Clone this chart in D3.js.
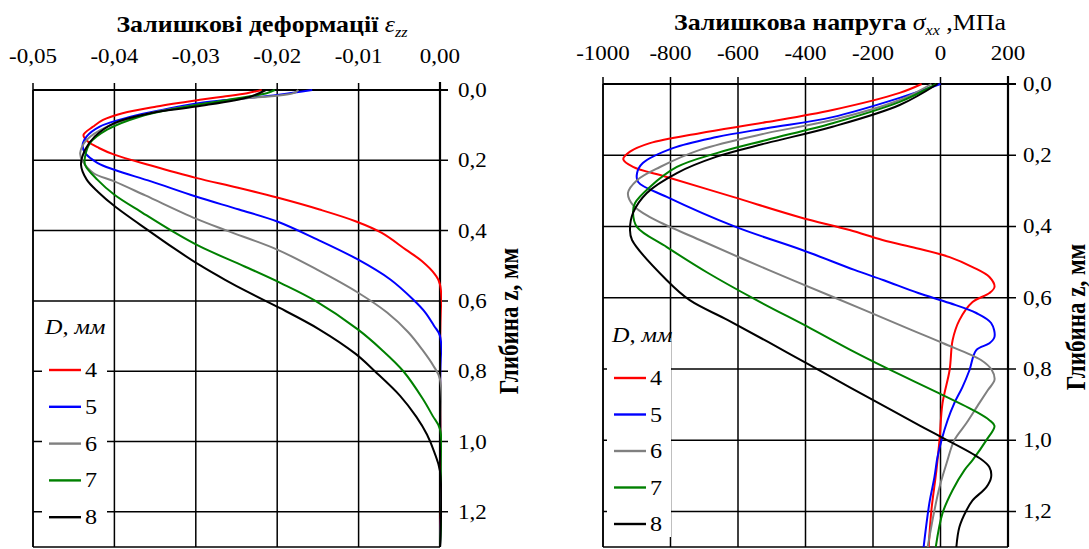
<!DOCTYPE html>
<html>
<head>
<meta charset="utf-8">
<script src="https://cdn.jsdelivr.net/npm/d3@7"></script>
<style>
    html, body { margin: 0; padding: 0; background: #fff; }
    svg { display: block; font-family: "Liberation Serif", "Times New Roman", serif; }
</style>
</head>
<body>
<svg id="chart" width="1089" height="549"></svg>
<script>
// depth ticks, shared by both panels
const depthTicks = [0, 0.2, 0.4, 0.6, 0.8, 1.0, 1.2];
const strainTicks = [-0.05, -0.04, -0.03, -0.02, -0.01, 0];
const stressTicks = [-1000, -800, -600, -400, -200, 0, 200];

const diameters = [4, 5, 6, 7, 8];
const seriesColors = ['#ff0000', '#0000ff', '#808080', '#008000', '#000000'];

// residual strain eps_zz, rows are [depth z mm, value]
const strainD4 = [[0, -0.0219], [0.009, -0.0237], [0.019, -0.0267], [0.028, -0.0295], [0.047, -0.0348], [0.066, -0.039], [0.085, -0.0414], [0.104, -0.0426], [0.128, -0.0438], [0.146, -0.0433], [0.165, -0.0419], [0.184, -0.040], [0.215, -0.0355], [0.25, -0.030], [0.278, -0.0248], [0.306, -0.020], [0.34, -0.0148], [0.374, -0.0103], [0.406, -0.0072], [0.454, -0.0042], [0.487, -0.0022], [0.525, -0.0006], [0.553, 0], [1.3, 0]];
const strainD5 = [[0, -0.0157], [0.014, -0.020], [0.037, -0.0295], [0.056, -0.034], [0.076, -0.038], [0.104, -0.0418], [0.132, -0.0434], [0.156, -0.0439], [0.179, -0.0436], [0.207, -0.0421], [0.227, -0.040], [0.26, -0.0355], [0.303, -0.030], [0.34, -0.0247], [0.374, -0.020], [0.425, -0.0151], [0.482, -0.0101], [0.539, -0.0061], [0.596, -0.0033], [0.633, -0.0018], [0.672, -0.0007], [0.70, 0], [1.3, 0]];
const strainD6 = [[0, -0.0174], [0.009, -0.018], [0.028, -0.0254], [0.066, -0.0356], [0.104, -0.0409], [0.142, -0.0434], [0.179, -0.0442], [0.203, -0.0439], [0.236, -0.0426], [0.26, -0.040], [0.3, -0.0362], [0.366, -0.030], [0.4, -0.0262], [0.454, -0.020], [0.511, -0.0151], [0.576, -0.0101], [0.633, -0.0065], [0.689, -0.0039], [0.738, -0.0022], [0.785, -0.0008], [0.823, 0], [1.3, 0]];
const strainD7 = [[0, -0.0203], [0.009, -0.0213], [0.047, -0.0311], [0.076, -0.0369], [0.113, -0.0409], [0.151, -0.043], [0.189, -0.0436], [0.213, -0.0436], [0.255, -0.0421], [0.298, -0.040], [0.35, -0.0365], [0.4, -0.033], [0.445, -0.0295], [0.502, -0.024], [0.55, -0.0195], [0.6, -0.0153], [0.681, -0.0101], [0.738, -0.0072], [0.80, -0.0045], [0.879, -0.0021], [0.927, -0.0009], [0.965, 0], [1.3, 0]];
const strainD8 = [[0, -0.0214], [0.019, -0.0233], [0.047, -0.030], [0.066, -0.0356], [0.094, -0.040], [0.132, -0.0424], [0.17, -0.0436], [0.213, -0.0441], [0.255, -0.0434], [0.29, -0.042], [0.33, -0.040], [0.4, -0.0358], [0.45, -0.0327], [0.497, -0.0296], [0.54, -0.0264], [0.576, -0.0235], [0.62, -0.0197], [0.68, -0.0149], [0.75, -0.0104], [0.80, -0.0080], [0.87, -0.0049], [0.93, -0.0029], [0.98, -0.0016], [1.03, -0.0007], [1.084, 0], [1.3, 0]];

// residual stress sigma_xx, MPa, rows are [depth z mm, value]
const stressD4 = [[0, -56], [0.025, -121], [0.073, -320], [0.107, -515], [0.138, -713], [0.166, -861], [0.19, -920], [0.211, -940], [0.233, -911], [0.261, -811], [0.317, -615], [0.374, -417], [0.41, -269], [0.438, -172], [0.461, -71], [0.486, 27], [0.514, 95], [0.542, 145], [0.57, 160], [0.587, 145], [0.612, 95], [0.663, 56], [0.719, 36], [0.803, 27], [0.896, 6], [1.0, -3], [1.084, -12], [1.197, -27], [1.3, -35]];
const stressD5 = [[0, 0], [0.039, -121], [0.093, -320], [0.124, -515], [0.149, -663], [0.18, -793], [0.222, -882], [0.25, -899], [0.275, -896], [0.317, -811], [0.402, -605], [0.466, -410], [0.522, -255], [0.551, -168], [0.587, -66], [0.615, 27], [0.643, 106], [0.671, 150], [0.71, 160], [0.728, 145], [0.747, 106], [0.803, 86], [0.851, 65], [0.896, 41], [0.944, 21], [1.0, 3], [1.048, -9], [1.104, -18], [1.177, -33], [1.3, -50]];
const stressD6 = [[0, -27], [0.045, -121], [0.101, -320], [0.138, -515], [0.185, -713], [0.233, -831], [0.27, -899], [0.306, -926], [0.34, -911], [0.374, -861], [0.438, -713], [0.522, -510], [0.598, -318], [0.691, -85], [0.728, 8], [0.775, 120], [0.803, 152], [0.831, 160], [0.86, 140], [0.896, 115], [0.952, 77], [1.0, 41], [1.065, 18], [1.132, -3], [1.197, -18], [1.3, -38]];
const stressD7 = [[0, -12], [0.05, -121], [0.11, -320], [0.157, -515], [0.194, -663], [0.233, -781], [0.289, -861], [0.334, -905], [0.362, -911], [0.402, -899], [0.458, -811], [0.53, -690], [0.607, -545], [0.686, -385], [0.75, -260], [0.80, -155], [0.868, -5], [0.92, 105], [0.944, 145], [0.96, 160], [1.0, 136], [1.056, 95], [1.084, 71], [1.14, 36], [1.205, 6], [1.3, -14]];
const stressD8 = [[0, -9], [0.059, -121], [0.12, -320], [0.166, -515], [0.204, -663], [0.25, -781], [0.306, -870], [0.362, -911], [0.41, -920], [0.438, -914], [0.551, -811], [0.607, -743], [0.663, -630], [0.756, -450], [0.851, -270], [0.916, -145], [0.96, -60], [0.99, 0], [1.05, 115], [1.076, 145], [1.104, 150], [1.132, 136], [1.169, 95], [1.197, 77], [1.244, 56], [1.3, 47]];

const strainSeries = [strainD4, strainD5, strainD6, strainD7, strainD8];
const stressSeries = [stressD4, stressD5, stressD6, stressD7, stressD8];

const svg = d3.select('#chart');
const STRETCH = 1.15;

function comma(value, digits) {
    return value.toFixed(digits).replace('.', ',');
}

function placeText(sel, x, y, rotate) {
    return sel.attr('transform', rotate
        ? `translate(${x},${y}) rotate(-90) scale(1,${STRETCH})`
        : `translate(${x},${y}) scale(${STRETCH},1)`);
}

function drawPanel(cfg) {
    const x = d3.scaleLinear().domain(cfg.xDomain).range([cfg.left, cfg.right]);
    const y = d3.scaleLinear().domain([0, 1.3]).range([cfg.top, cfg.bottom]);
    const g = svg.append('g');
    const clipId = 'clip-' + cfg.name;

    g.append('clipPath').attr('id', clipId)
        .append('rect')
        .attr('x', cfg.left).attr('y', cfg.top - 2)
        .attr('width', cfg.right - cfg.left + 2).attr('height', cfg.bottom - cfg.top + 2);

    // vertical grid with the top tick marks
    g.selectAll('line.vgrid')
        .data(cfg.xTicks)
        .join('line')
        .attr('class', 'vgrid')
        .attr('x1', d => x(d)).attr('x2', d => x(d))
        .attr('y1', cfg.top - 7).attr('y2', cfg.bottom)
        .attr('stroke', '#000').attr('stroke-width', 1.5);

    // horizontal grid with the right tick marks
    g.selectAll('line.hgrid')
        .data(depthTicks.slice(1))
        .join('line')
        .attr('class', 'hgrid')
        .attr('x1', cfg.left).attr('x2', cfg.right + 8)
        .attr('y1', d => y(d)).attr('y2', d => y(d))
        .attr('stroke', '#000').attr('stroke-width', 1.5);

    // frame
    g.append('line').attr('x1', cfg.left).attr('x2', cfg.left).attr('y1', cfg.top).attr('y2', cfg.bottom)
        .attr('stroke', '#000').attr('stroke-width', 1.5);
    g.append('line').attr('x1', cfg.left).attr('x2', cfg.right).attr('y1', cfg.bottom).attr('y2', cfg.bottom)
        .attr('stroke', '#000').attr('stroke-width', 1.5);
    g.append('line').attr('x1', cfg.left).attr('x2', cfg.right + 8).attr('y1', cfg.top).attr('y2', cfg.top)
        .attr('stroke', '#000').attr('stroke-width', 2.2);
    g.append('line').attr('x1', cfg.right).attr('x2', cfg.right).attr('y1', cfg.top - 8).attr('y2', cfg.bottom)
        .attr('stroke', '#000').attr('stroke-width', 2.2);

    // top tick labels
    g.selectAll('text.xlab')
        .data(cfg.xTicks)
        .join('text')
        .attr('class', 'xlab')
        .attr('text-anchor', 'middle')
        .style('font-size', '20px')
        .text(d => cfg.xFormat(d))
        .each(function (d) { placeText(d3.select(this), x(d), cfg.xLabelY); });

    // right tick labels
    g.selectAll('text.ylab')
        .data(depthTicks)
        .join('text')
        .attr('class', 'ylab')
        .style('font-size', '20px')
        .text(d => comma(d, 1))
        .each(function (d) { placeText(d3.select(this), cfg.right + cfg.yLabelGap, y(d) + 7); });

    // curves
    const line = d3.line()
        .x(d => x(d[1]))
        .y(d => y(d[0]))
        .curve(d3.curveCatmullRom.alpha(0.5));

    g.append('g').attr('clip-path', `url(#${clipId})`)
        .selectAll('path')
        .data(cfg.series)
        .join('path')
        .attr('d', line)
        .attr('fill', 'none')
        .attr('stroke', (d, i) => seriesColors[i])
        .attr('stroke-width', 2)
        .attr('stroke-linejoin', 'round');

    // title
    const title = g.append('text').attr('text-anchor', 'middle').style('font-size', '22.5px');
    cfg.title(title);
    placeText(title, cfg.titleX, cfg.titleY);

    // depth title
    const ytitle = g.append('text')
        .attr('text-anchor', 'middle')
        .style('font-size', '23px')
        .style('font-weight', 'bold')
        .text('Глибина z, мм');
    placeText(ytitle, cfg.yTitleX, cfg.yTitleY, true);

    // legend
    const lg = cfg.legend;
    g.append('rect')
        .attr('x', lg.x0).attr('y', lg.y0)
        .attr('width', lg.x1 - lg.x0).attr('height', lg.y1 - lg.y0)
        .attr('fill', '#fff');

    const head = g.append('text').style('font-size', '21px').style('font-style', 'italic');
    head.append('tspan').text('D');
    head.append('tspan').text(', мм');
    placeText(head, lg.headX, lg.headY);

    const items = g.selectAll('g.legend-item')
        .data(diameters)
        .join('g')
        .attr('class', 'legend-item');

    items.append('line')
        .attr('x1', lg.lineX).attr('x2', lg.lineX + 32)
        .attr('y1', (d, i) => lg.itemY + i * lg.step)
        .attr('y2', (d, i) => lg.itemY + i * lg.step)
        .attr('stroke', (d, i) => seriesColors[i])
        .attr('stroke-width', 2.4);

    items.append('text')
        .style('font-size', '21px')
        .text(d => d)
        .each(function (d, i) { placeText(d3.select(this), lg.lineX + 36, lg.itemY + i * lg.step + 7); });
}

drawPanel({
    name: 'strain',
    xDomain: [-0.05, 0],
    xTicks: strainTicks,
    xFormat: d => comma(d, 2),
    left: 33, right: 440, top: 90, bottom: 547,
    xLabelY: 63, yLabelGap: 18,
    series: strainSeries,
    titleX: 262, titleY: 32,
    title: t => {
        t.append('tspan').style('font-weight', 'bold').text('Залишкові деформації ');
        t.append('tspan').style('font-style', 'italic').text('ε');
        t.append('tspan').style('font-style', 'italic').style('font-size', '14px').attr('dy', 5).text('zz');
    },
    yTitleX: 518, yTitleY: 321,
    legend: { x0: 42, x1: 107, y0: 305, y1: 543, headX: 45, headY: 334, lineX: 49, itemY: 370, step: 36.8 }
});

drawPanel({
    name: 'stress',
    xDomain: [-1000, 200],
    xTicks: stressTicks,
    xFormat: d => String(d),
    left: 603, right: 1008, top: 84, bottom: 547,
    xLabelY: 60, yLabelGap: 15,
    series: stressSeries,
    titleX: 840, titleY: 30,
    title: t => {
        t.append('tspan').style('font-weight', 'bold').text('Залишкова напруга ');
        t.append('tspan').style('font-style', 'italic').text('σ');
        t.append('tspan').style('font-style', 'italic').style('font-size', '14px').attr('dy', 5).text('xx');
        t.append('tspan').attr('dy', -5).text(' ,МПа');
    },
    yTitleX: 1085, yTitleY: 317,
    legend: { x0: 607, x1: 671, y0: 338, y1: 537, headX: 612, headY: 342, lineX: 614, itemY: 378, step: 36.5 }
});
</script>
</body>
</html>
